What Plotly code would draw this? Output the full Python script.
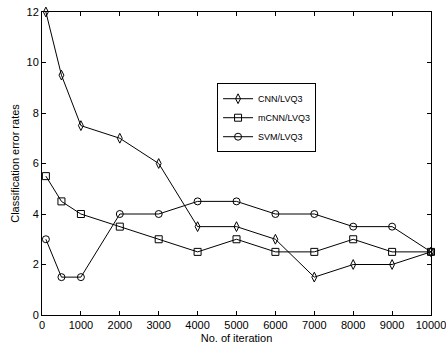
import plotly.graph_objects as go

iterations = [100, 500, 1000, 2000, 3000, 4000, 5000, 6000, 7000, 8000, 9000, 10000]
cnn_lvq3 = [12, 9.5, 7.5, 7, 6, 3.5, 3.5, 3, 1.5, 2, 2, 2.5]
mcnn_lvq3 = [5.5, 4.5, 4, 3.5, 3, 2.5, 3, 2.5, 2.5, 3, 2.5, 2.5]
svm_lvq3 = [3, 1.5, 1.5, 4, 4, 4.5, 4.5, 4, 4, 3.5, 3.5, 2.5]
x_ticks = list(range(0, 10001, 1000))
x_ticktext = [str(v) for v in x_ticks]
y_ticks = [0, 2, 4, 6, 8, 10, 12]

fig = go.Figure()
series = [
    ("CNN/LVQ3", cnn_lvq3, "diamond-tall-open"),
    ("mCNN/LVQ3", mcnn_lvq3, "square-open"),
    ("SVM/LVQ3", svm_lvq3, "circle-open"),
]
for name, ys, sym in series:
    fig.add_trace(go.Scatter(
        x=iterations, y=ys, name=name, mode="lines+markers", cliponaxis=False,
        line=dict(color="black", width=1),
        marker=dict(symbol=sym, size=7, color="black", line=dict(width=1, color="black")),
    ))
# empty trace so the top/right frame axes are drawn
fig.add_trace(go.Scatter(x=[], y=[], xaxis="x2", yaxis="y2", showlegend=False, hoverinfo="skip"))

axis_common = dict(
    showgrid=False, zeroline=False, showline=True, linecolor="black", linewidth=1,
    ticks="inside", ticklen=4, tickcolor="black", tickwidth=1,
    ticklabeloverflow="allow",
    tickfont=dict(family="Liberation Sans, Arial", size=11, color="black"),
)
fig.update_layout(
    width=446, height=349,
    margin=dict(l=42, r=15, t=12, b=34),
    paper_bgcolor="white", plot_bgcolor="white",
    font=dict(family="Liberation Sans, Arial", size=10, color="black"),
    xaxis=dict(range=[0, 10000], tickvals=x_ticks, ticktext=x_ticktext, automargin=False,
               mirror="ticks",
               title=dict(text="No. of iteration", standoff=4, font=dict(size=11)),
               **axis_common),
    yaxis=dict(range=[0, 12], tickvals=y_ticks, automargin=False, mirror="ticks",
               title=dict(text="Classification error rates", standoff=4, font=dict(size=11)),
               **axis_common),
    xaxis2=dict(overlaying="x", side="top", anchor="y2", range=[0, 10000], tickvals=x_ticks,
                showticklabels=False, automargin=False, **axis_common),
    yaxis2=dict(overlaying="y", side="right", anchor="x2", range=[0, 12], tickvals=y_ticks,
                showticklabels=False, automargin=False, **axis_common),
    legend=dict(x=0.45, y=0.765, xanchor="left", yanchor="top",
                bordercolor="black", borderwidth=1, bgcolor="white",
                font=dict(size=9), tracegroupgap=0, itemwidth=30),
    showlegend=True,
)
fig.write_html("out.html", config={"displayModeBar": False},
               post_script="document.body.style.margin='0';document.body.style.overflow='hidden';")
